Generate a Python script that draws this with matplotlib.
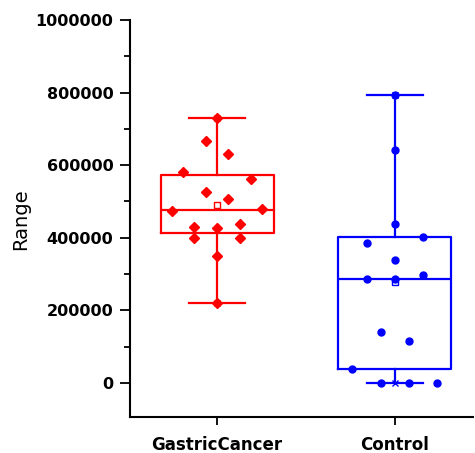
import numpy as np
import matplotlib
matplotlib.use("Agg")
import matplotlib.pyplot as plt
from matplotlib.ticker import MultipleLocator, ScalarFormatter

groups = ["GastricCancer", "Control"]
gastric = [731000, 666000, 631000, 581000, 562000, 526000, 507000, 473000,
           478500, 430600, 427000, 438000, 399500, 399500, 350700, 221000]
control = [793000, 641000, 438000, 401000, 385000, 339000, 298000, 286500,
           286500, 140500, 115700, 37700, 0, 0, 0]

# horizontal scatter of points, as fraction of box width
gastric_jit = [0, -0.1, 0.1, -0.3, 0.3, -0.1, 0.1, -0.4, 0.4, -0.2, 0, 0.2, -0.2, 0.2, 0, 0]
control_jit = [0, 0, 0, 0.25, -0.25, 0, 0.25, -0.25, 0, -0.125, 0.125, -0.375, -0.125, 0.125, 0.375]

colors = ["#ff0000", "#0000ff"]
markers = ["D", "o"]
msizes = [5, 5]
box_w = 0.636


def hinges(vals):
    v = np.sort(vals)
    n = len(v)
    half = n // 2
    lower = v[:half]
    upper = v[half + (n % 2):]
    return np.median(lower), np.median(v), np.median(upper)


fig = plt.figure(figsize=(4.75, 4.53), dpi=100)
ax = fig.add_axes([0.2737, 0.0795, 0.722, 0.8765])

for i, (vals, jit) in enumerate([(gastric, gastric_jit), (control, control_jit)]):
    pos = i + 1
    c = colors[i]
    q1, med, q3 = hinges(vals)
    stats = [dict(med=med, q1=q1, q3=q3, whislo=min(vals), whishi=max(vals),
                  mean=np.mean(vals), fliers=[])]
    ax.bxp(stats, positions=[pos], widths=box_w, showmeans=True, patch_artist=False,
           boxprops=dict(color=c, lw=1.6),
           medianprops=dict(color=c, lw=1.6),
           whiskerprops=dict(color=c, lw=1.6),
           capprops=dict(color=c, lw=1.6),
           meanprops=dict(marker="s", markerfacecolor="white", markeredgecolor=c,
                          markersize=4.5, markeredgewidth=1.0),
           manage_ticks=False)
    ax.plot([pos, pos], [min(vals), max(vals)], ls="none", marker="x", color=c,
            ms=4.5, mew=1.0, zorder=3)
    xs = pos + np.array(jit) * box_w
    ax.plot(xs, vals, ls="none", marker=markers[i], color=c, ms=msizes[i], zorder=4)

ax.set_xlim(0.51, 2.44)
ax.set_ylim(-94000, 1000000)
ax.set_xticks([1, 2])
ax.set_xticklabels(groups, fontsize=12, fontweight="bold", family="DejaVu Sans")
ax.yaxis.set_major_locator(MultipleLocator(200000))
ax.yaxis.set_minor_locator(MultipleLocator(100000))
fmt = ScalarFormatter(useOffset=False)
fmt.set_scientific(False)
ax.yaxis.set_major_formatter(fmt)
for lab in ax.get_yticklabels():
    lab.set_fontweight("bold")
    lab.set_fontsize(11.5)
ax.set_ylabel("Range", fontsize=14)
ax.yaxis.set_label_coords(-0.29, 0.497)

for s in ["top", "right"]:
    ax.spines[s].set_visible(False)
for s in ["left", "bottom"]:
    ax.spines[s].set_linewidth(1.5)
ax.tick_params(axis="y", which="major", direction="out", length=7, width=1.3, pad=5)
ax.tick_params(axis="y", which="minor", direction="out", length=4, width=1.3)
ax.tick_params(axis="x", which="major", direction="out", length=6, width=1.3, pad=8)

fig.savefig("out.png", dpi=100)
